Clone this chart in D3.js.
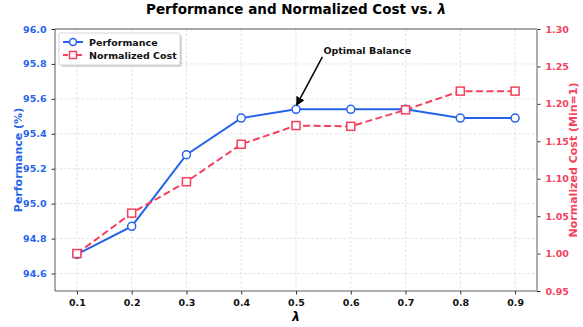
<!DOCTYPE html>
<meta charset="utf-8">
<script src="https://d3js.org/d3.v7.min.js"></script>
<style>
  body { margin: 0; background: #fff; }
  text { font-family: "DejaVu Sans", sans-serif; }
</style>
<div id="chart"></div>
<script>
// data
var lambdas = [0.1, 0.2, 0.3, 0.4, 0.5, 0.6, 0.7, 0.8, 0.9];
var performance = [94.71, 94.87, 95.28, 95.49, 95.54, 95.54, 95.54, 95.49, 95.49];
var cost = [1.000, 1.054, 1.096, 1.146, 1.171, 1.170, 1.192, 1.217, 1.217];
var leftTicks = [94.6, 94.8, 95.0, 95.2, 95.4, 95.6, 95.8, 96.0];
var rightTicks = [0.95, 1.00, 1.05, 1.10, 1.15, 1.20, 1.25, 1.30];

var W = 583, H = 327;
var margin = {top: 29, right: 46, bottom: 36, left: 55};
var width = W - margin.left - margin.right,
    height = H - margin.top - margin.bottom;

var blue = "#2563eb", red = "#f43f5e";

var svg = d3.select("#chart").append("svg")
    .attr("width", W).attr("height", H);
var g = svg.append("g")
    .attr("transform", "translate(" + margin.left + "," + margin.top + ")");

var x = d3.scaleLinear().domain([0.06, 0.94]).range([0, width]);
var yL = d3.scaleLinear().domain([94.5, 96.0]).range([height, 0]);
var yR = d3.scaleLinear().domain([0.95, 1.30]).range([height, 0]);

// grid
g.append("g").selectAll("line").data(lambdas).enter().append("line")
    .attr("x1", d => x(d)).attr("x2", d => x(d))
    .attr("y1", 0).attr("y2", height)
    .attr("stroke", "#ccc").attr("stroke-width", 0.6).attr("stroke-dasharray", "2.5,2");
g.append("g").selectAll("line").data(leftTicks).enter().append("line")
    .attr("x1", 0).attr("x2", width)
    .attr("y1", d => yL(d)).attr("y2", d => yL(d))
    .attr("stroke", "#ccc").attr("stroke-width", 0.6).attr("stroke-dasharray", "2.5,2");

// axes
var xAxis = g.append("g").attr("transform", "translate(0," + height + ")")
    .call(d3.axisBottom(x).tickValues(lambdas).tickFormat(d3.format(".1f")).tickSize(3.5).tickPadding(5));
var lAxis = g.append("g")
    .call(d3.axisLeft(yL).tickValues(leftTicks).tickFormat(d3.format(".1f")).tickSize(3.5).tickPadding(5));
var rAxis = g.append("g").attr("transform", "translate(" + width + ",0)")
    .call(d3.axisRight(yR).tickValues(rightTicks).tickFormat(d3.format(".2f")).tickSize(3.5).tickPadding(5));

[xAxis, lAxis, rAxis].forEach(function(a) {
  a.select(".domain").remove();
  a.selectAll("text").style("font-size", "9.5px").style("font-weight", "bold")
    .style("font-family", "DejaVu Sans");
});
xAxis.selectAll("text").attr("fill", "#111");
xAxis.selectAll("line").attr("stroke", "#333");
lAxis.selectAll("text").attr("fill", blue);
lAxis.selectAll("line").attr("stroke", "#333");
rAxis.selectAll("text").attr("fill", red);
rAxis.selectAll("line").attr("stroke", "#333");

// spines
g.append("line").attr("x1", 0).attr("x2", width).attr("y1", 0).attr("y2", 0).attr("stroke", "#333").attr("stroke-width", 0.8);
g.append("line").attr("x1", 0).attr("x2", width).attr("y1", height).attr("y2", height).attr("stroke", "#333").attr("stroke-width", 0.8);
g.append("line").attr("x1", 0).attr("x2", 0).attr("y1", 0).attr("y2", height).attr("stroke", "#333").attr("stroke-width", 0.8);
g.append("line").attr("x1", width).attr("x2", width).attr("y1", 0).attr("y2", height).attr("stroke", "#999").attr("stroke-width", 1.6);

// lines
var perfData = lambdas.map((l, i) => [l, performance[i]]);
var costData = lambdas.map((l, i) => [l, cost[i]]);

g.append("path").datum(perfData)
    .attr("fill", "none").attr("stroke", blue).attr("stroke-width", 2)
    .attr("d", d3.line().x(d => x(d[0])).y(d => yL(d[1])));
g.append("path").datum(costData)
    .attr("fill", "none").attr("stroke", red).attr("stroke-width", 2)
    .attr("stroke-dasharray", "7,3.5")
    .attr("d", d3.line().x(d => x(d[0])).y(d => yR(d[1])));

g.append("g").selectAll("circle").data(perfData).enter().append("circle")
    .attr("cx", d => x(d[0])).attr("cy", d => yL(d[1])).attr("r", 4)
    .attr("fill", "#fff").attr("stroke", blue).attr("stroke-width", 1.5);
g.append("g").selectAll("rect").data(costData).enter().append("rect")
    .attr("x", d => x(d[0]) - 4).attr("y", d => yR(d[1]) - 4)
    .attr("width", 8).attr("height", 8)
    .attr("fill", "#fff").attr("stroke", red).attr("stroke-width", 1.5);

// annotation
svg.append("defs").append("marker")
    .attr("id", "arrow").attr("viewBox", "0 0 10 10")
    .attr("refX", 8).attr("refY", 5).attr("markerWidth", 6).attr("markerHeight", 6)
    .attr("orient", "auto")
  .append("path").attr("d", "M0,0 L10,5 L0,10 z").attr("fill", "#000");
var ax = x(0.5), ay = yL(95.54);
g.append("line")
    .attr("x1", x(0.55) - 1).attr("y1", yL(95.84))
    .attr("x2", ax + 1).attr("y2", ay - 5)
    .attr("stroke", "#000").attr("stroke-width", 1.5)
    .attr("marker-end", "url(#arrow)");
g.append("text").attr("x", x(0.55)).attr("y", yL(95.855))
    .attr("font-size", "9.5px").attr("font-weight", "bold").attr("fill", "#111")
    .text("Optimal Balance");

// titles
svg.append("text").attr("x", margin.left + width / 2).attr("y", 14)
    .attr("text-anchor", "middle").attr("font-size", "13.5px").attr("font-weight", "bold")
    .html('Performance and Normalized Cost vs. <tspan font-style="italic">λ</tspan>');
svg.append("text").attr("x", margin.left + width / 2).attr("y", 321)
    .attr("text-anchor", "middle").attr("font-size", "12px").attr("font-weight", "bold")
    .attr("font-style", "italic").text("λ");
svg.append("text")
    .attr("transform", "translate(22," + (margin.top + height / 2) + ") rotate(-90)")
    .attr("text-anchor", "middle").attr("font-size", "11px").attr("font-weight", "bold")
    .attr("fill", blue).text("Performance (%)");
svg.append("text")
    .attr("transform", "translate(577," + (margin.top + height / 2) + ") rotate(-90)")
    .attr("text-anchor", "middle").attr("font-size", "11px").attr("font-weight", "bold")
    .attr("fill", red).text("Normalized Cost (Min=1)");

// legend
var lg = g.append("g").attr("transform", "translate(4,4)");
lg.append("rect").attr("x", 2).attr("y", 2).attr("width", 121).attr("height", 32).attr("rx", 2)
    .attr("fill", "#bbb").attr("opacity", 0.6);
lg.append("rect").attr("width", 121).attr("height", 32).attr("rx", 2)
    .attr("fill", "#fff").attr("stroke", "#ccc").attr("stroke-width", 0.8);
var items = [
  {name: "Performance", color: blue, dash: null, shape: "circle"},
  {name: "Normalized Cost", color: red, dash: "5,2", shape: "square"}
];
items.forEach(function(it, i) {
  var yy = 9 + i * 13;
  lg.append("line").attr("x1", 4).attr("x2", 24).attr("y1", yy).attr("y2", yy)
      .attr("stroke", it.color).attr("stroke-width", 2).attr("stroke-dasharray", it.dash);
  if (it.shape === "circle") {
    lg.append("circle").attr("cx", 14).attr("cy", yy).attr("r", 3.5)
        .attr("fill", "#fff").attr("stroke", it.color).attr("stroke-width", 1.5);
  } else {
    lg.append("rect").attr("x", 10.5).attr("y", yy - 3.5).attr("width", 7).attr("height", 7)
        .attr("fill", "#fff").attr("stroke", it.color).attr("stroke-width", 1.5);
  }
  lg.append("text").attr("x", 30).attr("y", yy + 3.5)
      .attr("font-size", "9.5px").attr("font-weight", "bold").attr("fill", "#111")
      .text(it.name);
});
</script>
